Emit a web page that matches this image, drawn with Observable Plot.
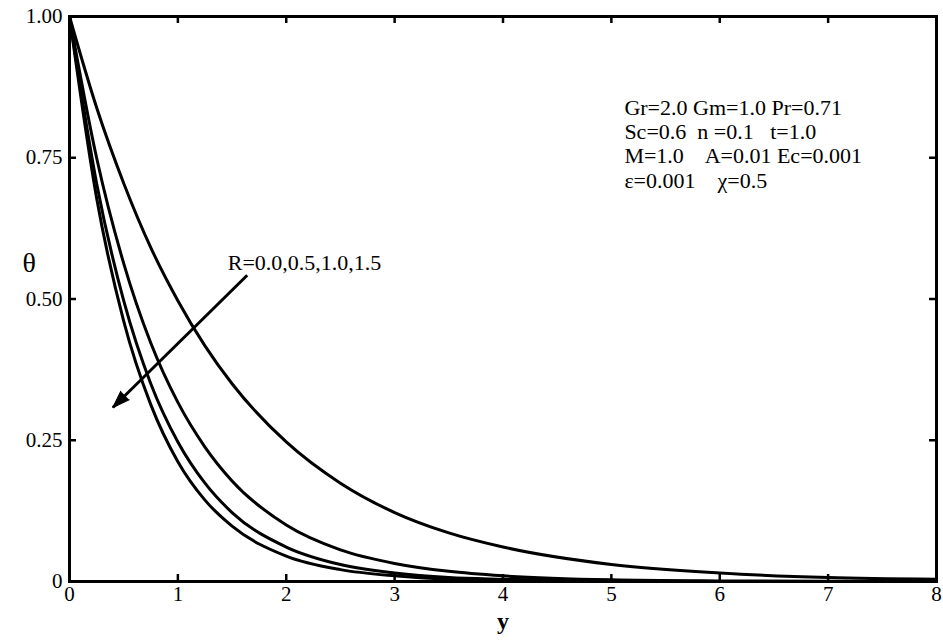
<!DOCTYPE html>
<html>
<head>
<meta charset="utf-8">
<script src="https://cdn.jsdelivr.net/npm/d3@7"></script>
<script src="https://cdn.jsdelivr.net/npm/@observablehq/plot@0.6"></script>
<style>
  html, body { margin: 0; padding: 0; background: white; }
  svg text { white-space: pre; }
</style>
</head>
<body>
<div id="chart"></div>
<script>
// y (distance) sample points
const yGrid = [0, 0.25, 0.5, 0.75, 1, 1.25, 1.5, 2, 2.5, 3, 3.5, 4, 5, 6, 7, 8];
// theta profiles, R = 0.0, 0.5, 1.0, 1.5
const thetaR00 = [1, 0.839, 0.705, 0.591, 0.497, 0.417, 0.350, 0.247, 0.174, 0.122, 0.086, 0.061, 0.030, 0.015, 0.007, 0.004];
const thetaR05 = [1, 0.750, 0.563, 0.422, 0.317, 0.238, 0.178, 0.100, 0.056, 0.032, 0.018, 0.010, 0.003, 0.001, 0.0003, 0.0001];
const thetaR10 = [1, 0.705, 0.497, 0.350, 0.247, 0.174, 0.122, 0.061, 0.030, 0.015, 0.007, 0.004, 0.001, 0.0002, 0, 0];
const thetaR15 = [1, 0.679, 0.461, 0.313, 0.212, 0.144, 0.098, 0.045, 0.021, 0.010, 0.004, 0.002, 0.0005, 0.0001, 0, 0];
const seriesNames = ["R=0.0", "R=0.5", "R=1.0", "R=1.5"];
const seriesValues = [thetaR00, thetaR05, thetaR10, thetaR15];

const xTicks = [0, 1, 2, 3, 4, 5, 6, 7, 8];
const yTicks = [0, 0.25, 0.5, 0.75, 1];
const yTickLabels = ["0", "0.25", "0.50", "0.75", "1.00"];

const paramLines = ["Gr=2.0 Gm=1.0 Pr=0.71", "Sc=0.6  n =0.1   t=1.0", "M=1.0    A=0.01 Ec=0.001", "ε=0.001    χ=0.5"];
const paramPos = {x: 5.12, y: 0.775};
const arrowLabel = "R=0.0,0.5,1.0,1.5";
const arrowLabelPos = {x: 1.46, y: 0.563};
const arrowData = [{x1: 1.64, y1: 0.542, x2: 0.40, y2: 0.308}];

const rows = [];
seriesNames.forEach((name, i) => {
  yGrid.forEach((yv, j) => rows.push({series: name, y: yv, theta: seriesValues[i][j]}));
});

const W = 943, H = 643;
const mt = 16, mb = 62, ml = 69, mr = 7;
const innerW = W - ml - mr, innerH = H - mt - mb;
const tickLen = 7;

// direction of the arrow head, in screen space
const pxPerX = innerW / 8, pxPerY = innerH / 1;
const a = arrowData[0];
const adx = (a.x2 - a.x1) * pxPerX, ady = -(a.y2 - a.y1) * pxPerY;
const headRotate = Math.atan2(adx, -ady) * 180 / Math.PI;

const chart = Plot.plot({
  width: W,
  height: H,
  marginTop: mt,
  marginBottom: mb,
  marginLeft: ml,
  marginRight: mr,
  style: {fontFamily: "'Liberation Serif', 'Times New Roman', serif", fontSize: "21px", color: "black", background: "white"},
  x: {domain: [0, 8], axis: null},
  y: {domain: [0, 1], axis: null},
  marks: [
    Plot.line(rows, {x: "y", y: "theta", z: "series", stroke: "black", strokeWidth: 3, curve: "monotone-x", clip: true}),
    // inward ticks
    Plot.tickX(xTicks, {x: d => d, stroke: "black", strokeWidth: 2.5, insetTop: innerH - tickLen}),
    Plot.tickX(xTicks, {x: d => d, stroke: "black", strokeWidth: 2.5, insetBottom: innerH - tickLen}),
    Plot.tickY(yTicks, {y: d => d, stroke: "black", strokeWidth: 2.5, insetRight: innerW - tickLen}),
    Plot.tickY(yTicks, {y: d => d, stroke: "black", strokeWidth: 2.5, insetLeft: innerW - tickLen}),
    Plot.frame({stroke: "black", strokeWidth: 3}),
    // tick labels
    Plot.text(xTicks, {x: d => d, text: d => String(d), frameAnchor: "bottom", dy: 19, fontSize: 21}),
    Plot.text(yTicks, {y: d => d, text: (d, i) => yTickLabels[i], frameAnchor: "left", dx: -7, textAnchor: "end", fontSize: 21}),
    Plot.text(["y"], {frameAnchor: "bottom", dy: 47, fontWeight: "bold", fontSize: 24}),
    Plot.text(["θ"], {frameAnchor: "left", dx: -47, dy: -36, fontSize: 28}),
    Plot.text([paramLines.join("\n")], {x: paramPos.x, y: paramPos.y, textAnchor: "start", lineAnchor: "middle", lineHeight: 1.1, fontSize: 22}),
    Plot.text([arrowLabel], {x: arrowLabelPos.x, y: arrowLabelPos.y, textAnchor: "start", fontSize: 22}),
    Plot.link(arrowData, {x1: "x1", y1: "y1", x2: "x2", y2: "y2", stroke: "black", strokeWidth: 3}),
    Plot.vector(arrowData, {x: "x2", y: "y2", anchor: "end", shape: "spike", length: 17, r: 6, rotate: headRotate, fill: "black", stroke: "black", strokeWidth: 1})
  ]
});
document.getElementById("chart").appendChild(chart);
</script>
</body>
</html>
